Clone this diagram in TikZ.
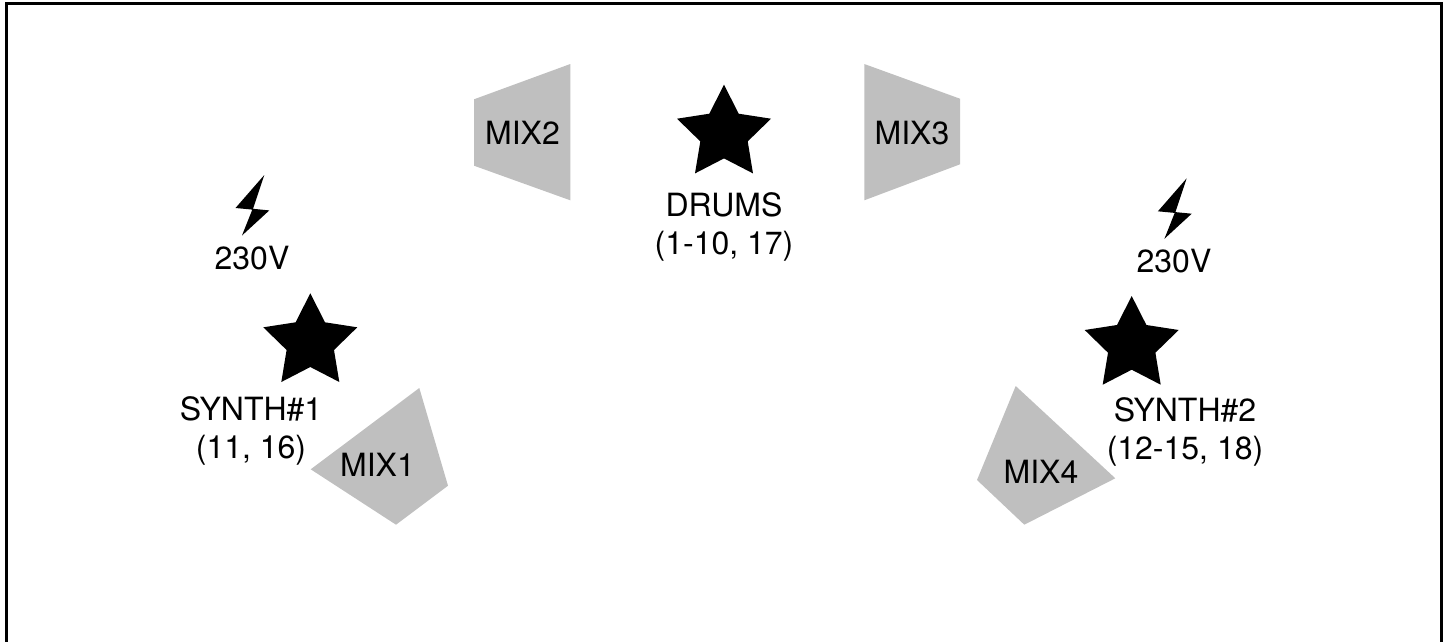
\documentclass[tikz,border=0pt]{standalone}
\usepackage{fontspec}
\setmainfont{TeX Gyre Heros}
\definecolor{mixgray}{RGB}{191,191,191}
\tikzset{
  mixshape/.style={fill=mixgray,draw=none},
  starshape/.style={fill=black,draw=none},
  boltshape/.style={fill=black,draw=none},
  lbl/.style={inner sep=0pt,align=center,text=black,font=\fontsize{32}{38}\selectfont},
  frameline/.style={draw=black,line width=3pt,line join=miter},
  bigstar/.pic={\path[starshape] (0,0)--(14.7,29)--(47,34)--(23.7,56.7)--(29,88.7)--(0,73.7)--(-29,88.7)--(-23.7,56.7)--(-47,34)--(-14.7,29)--cycle;},
  boltmark/.pic={\path[boltshape] (0,0)--(-28.8,33)--(-12,34.6)--(-22.3,60.5)--(5,35.4)--(-11.3,33.8)--cycle;}
}
\begin{document}
\begin{tikzpicture}[x=1pt,y=-1pt]
\useasboundingbox (0,0) rectangle (1448,641);
\draw[frameline] (6.5,645) -- (6.5,3.5) -- (1441,3.5) -- (1441,645);
% loudspeaker wedges
\path[mixshape] (419.3,388)--(448,485.7)--(396,524.7)--(310.7,469.3)--cycle;
\path[mixshape] (570.3,64)--(570.3,200.3)--(474,165.7)--(474,99.3)--cycle;
\path[mixshape] (864.3,64)--(960,98.7)--(960,164.3)--(864.3,200.3)--cycle;
\path[mixshape] (1015.7,386)--(1115.3,478.3)--(1024.3,524.7)--(977,480)--cycle;
% stars
\pic at (310.3,293.3) {bigstar};
\pic at (724,84.7) {bigstar};
\pic at (1131.7,296) {bigstar};
% bolts
\pic at (264.3,175) {boltmark};
\pic at (1186.7,178.3) {boltmark};
% labels
\node[lbl] (mixa) at (377.5,465) {MIX1};
\node[lbl] (mixb) at (522.5,133) {MIX2};
\node[lbl] (mixc) at (912,133) {MIX3};
\node[lbl] (mixd) at (1041,471.5) {MIX4};
\node[lbl] (drums) at (724,226.5) {DRUMS\\(1-10, 17)};
\node[lbl] (syntha) at (251,431) {SYNTH\#1\\(11, 16)};
\node[lbl] (synthb) at (1185,431.5) {SYNTH\#2\\(12-15, 18)};
\node[lbl] (volta) at (252,258.5) {230V};
\node[lbl] (voltb) at (1174,261.5) {230V};
\end{tikzpicture}
\end{document}
